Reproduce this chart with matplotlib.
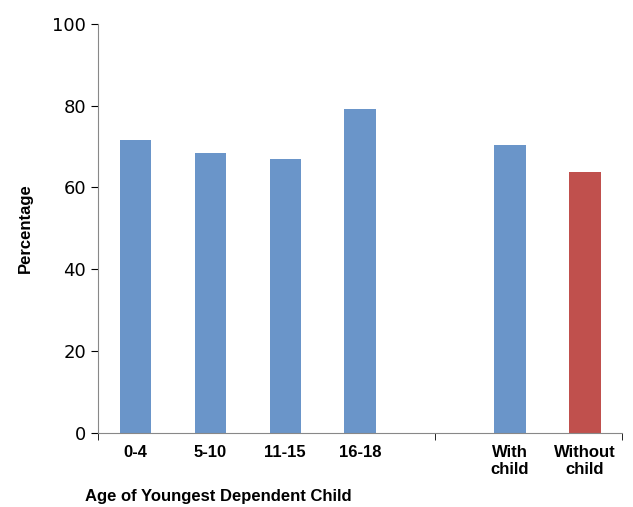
import numpy as np
import matplotlib.pyplot as plt

categories = ['0-4', '5-10', '11-15', '16-18', '', 'With\nchild', 'Without\nchild']
values = [71.5, 68.5, 67.0, 79.2, np.nan, 70.5, 63.7]
colors = ['#6a95c9'] * 6 + ['#c0504d']

fig = plt.figure(figsize=(6.33, 5.07), dpi=100)
ax = fig.add_axes([0.155, 0.146, 0.828, 0.807])

x = np.arange(len(categories))
ax.bar(x, values, width=0.42, color=colors)

ax.set_xlim(-0.5, len(categories) - 0.5)
ax.set_ylim(0, 100)
ax.set_yticks(range(0, 101, 20))
shown = [i for i, c in enumerate(categories) if c]
ax.set_xticks(shown)
ax.set_xticklabels([categories[i] for i in shown], fontweight='bold', fontsize=12,
                   family='Liberation Sans', linespacing=1.1)
ax.tick_params(axis='x', length=0, pad=9)
ax.set_xticks([-0.5, 4, 6.5], minor=True)
ax.tick_params(axis='x', which='minor', length=5, direction='out')
ax.tick_params(axis='y', labelsize=13, length=5)

for s in ['top', 'right']:
    ax.spines[s].set_visible(False)
for s in ['left', 'bottom']:
    ax.spines[s].set_color('#888888')

ax.set_ylabel('Percentage', fontweight='bold', fontsize=12, family='Liberation Sans',
              labelpad=14)
fig.text(0.135, 0.012, 'Age of Youngest Dependent Child', fontweight='bold',
         fontsize=12, family='Liberation Sans')

fig.savefig('out.png', dpi=100)
